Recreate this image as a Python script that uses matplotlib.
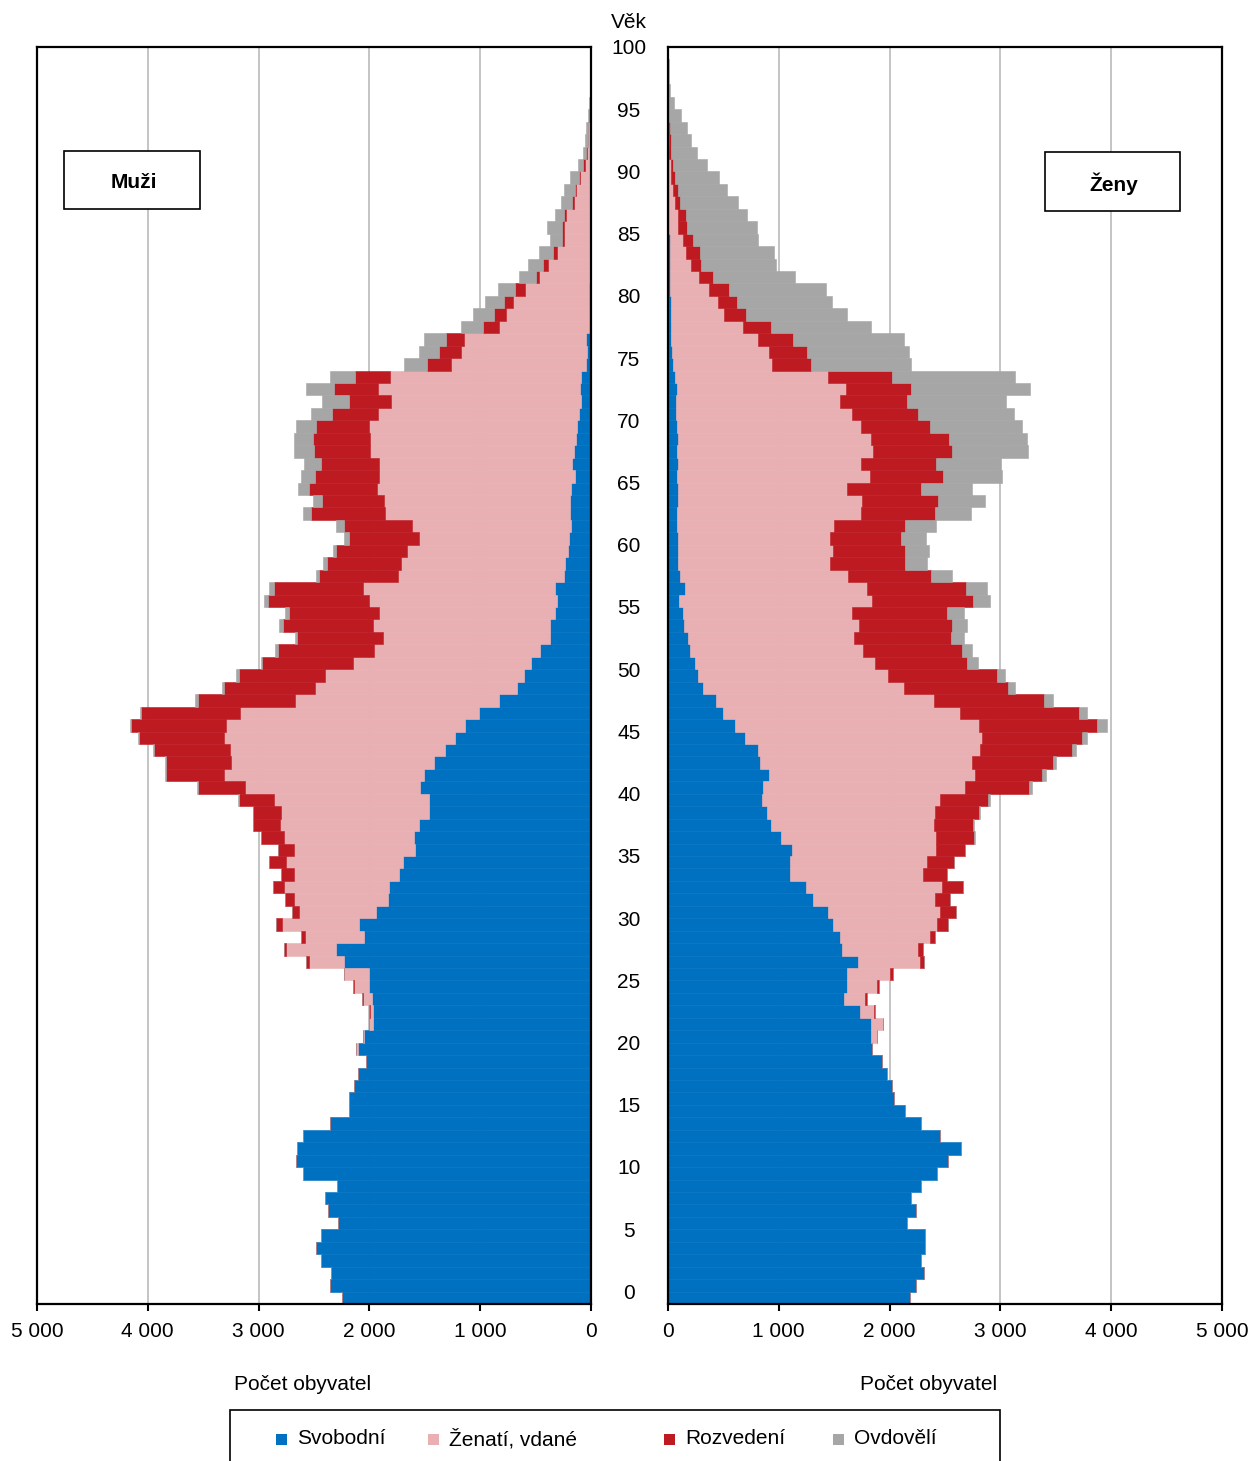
import numpy as np
import matplotlib
matplotlib.use("Agg")
import matplotlib.pyplot as plt
from matplotlib.patches import Rectangle
from matplotlib.transforms import blended_transform_factory

plt.rcParams['font.family'] = ['Liberation Sans', 'DejaVu Sans']

ages = np.arange(101)

# ---- Men (Muži) ----
men_single = [2250, 2355, 2350, 2440, 2485, 2440, 2280, 2375, 2405, 2295,
              2595, 2665, 2655, 2595, 2360, 2185, 2180, 2140, 2105, 2030,
              2107, 2045, 1968, 1968, 1981, 2006, 2006, 2226, 2303, 2052,
              2097, 1936, 1832, 1819, 1732, 1697, 1587, 1594, 1552, 1458,
              1458, 1542, 1510, 1419, 1319, 1226, 1136, 1013, 826, 668,
              603, 539, 458, 371, 371, 329, 303, 326, 242, 232,
              210, 200, 181, 194, 194, 184, 148, 168, 155, 135,
              123, 106, 90, 100, 90, 48, 39, 45, 20, 18,
              16, 15, 13, 12, 10, 10, 8, 7, 6, 5,
              4, 3, 3, 2, 2, 1, 1, 1, 0, 0, 0]
men_married = [0] * 20 + [
              13, 10, 38, 30, 77, 135, 219, 323, 446, 526,
              690, 696, 846, 952, 952, 1052, 1091, 1174, 1255, 1339,
              1407, 1581, 1806, 1826, 1939, 2090, 2154, 2155, 1845, 1826,
              1800, 1613, 1503, 1507, 1597, 1587, 1697, 1729, 1500, 1484,
              1448, 1355, 1435, 1664, 1674, 1748, 1768, 1748, 1839, 1862,
              1880, 1817, 1717, 1819, 1720, 1220, 1135, 1100, 809, 747,
              690, 585, 452, 375, 300, 235, 234, 216, 149, 127,
              96, 52, 36, 27, 21, 12, 9, 6, 4, 2, 1]
men_divorced = [0] * 20 + [
              0, 0, 0, 6, 10, 10, 6, 19, 25, 42,
              58, 68, 83, 103, 113, 161, 151, 206, 248, 258,
              316, 422, 523, 588, 684, 765, 859, 890, 878, 822,
              778, 813, 865, 774, 816, 813, 916, 803, 716, 671,
              645, 626, 616, 671, 558, 610, 578, 520, 509, 513,
              481, 413, 380, 404, 316, 213, 194, 168, 145, 112,
              81, 84, 35, 45, 32, 20, 23, 22, 13, 10,
              10, 13, 3, 2, 2, 1, 1, 1, 0, 0, 0]
men_widowed = [0] * 40 + [
              9, 10, 10, 12, 12, 10, 13, 16, 25, 10,
              19, 16, 26, 19, 29, 36, 33, 45, 26, 33,
              26, 51, 65, 74, 87, 100, 122, 151, 175, 171,
              181, 187, 245, 248, 229, 209, 187, 194, 200, 188,
              171, 158, 148, 133, 129, 109, 135, 84, 103, 100,
              80, 51, 29, 24, 23, 9, 8, 5, 4, 3, 2]

# ---- Women (Ženy) ----
women_single = [2184, 2239, 2307, 2284, 2320, 2320, 2158, 2236, 2197, 2281,
                2432, 2526, 2642, 2455, 2281, 2139, 2036, 2019, 1981, 1932,
                1839, 1829, 1836, 1732, 1590, 1613, 1613, 1716, 1568, 1548,
                1490, 1448, 1310, 1248, 1100, 1100, 1123, 1023, 929, 894,
                845, 858, 916, 832, 810, 694, 606, 500, 432, 316,
                274, 248, 200, 181, 145, 139, 100, 152, 110, 87,
                87, 87, 81, 81, 94, 94, 81, 87, 77, 87,
                81, 74, 71, 77, 61, 42, 36, 30, 28, 26,
                24, 22, 20, 18, 16, 14, 12, 10, 9, 8,
                7, 6, 5, 4, 3, 2, 2, 1, 1, 0, 0]
women_married = [0] * 20 + [
                6, 55, 103, 123, 191, 277, 390, 555, 684, 820,
                939, 1004, 1097, 1223, 1203, 1242, 1300, 1400, 1474, 1516,
                1610, 1820, 1852, 1913, 2010, 2142, 2197, 2139, 1965, 1816,
                1716, 1617, 1561, 1500, 1578, 1526, 1742, 1645, 1513, 1371,
                1400, 1378, 1413, 1664, 1658, 1522, 1745, 1658, 1775, 1742,
                1664, 1587, 1481, 1533, 1384, 900, 874, 780, 653, 480,
                424, 346, 257, 188, 149, 118, 82, 77, 52, 37,
                22, 17, 8, 6, 5, 4, 3, 2, 1, 1, 0]
women_divorced = [0] * 20 + [
                0, 0, 0, 13, 13, 17, 26, 39, 48, 45,
                100, 148, 135, 190, 217, 236, 261, 335, 349, 393,
                429, 583, 610, 733, 822, 903, 1071, 1071, 997, 936,
                978, 838, 894, 877, 838, 855, 913, 897, 755, 684,
                655, 642, 645, 665, 687, 671, 655, 671, 713, 710,
                616, 594, 603, 580, 574, 352, 345, 322, 251, 200,
                178, 184, 129, 91, 122, 91, 80, 78, 49, 42,
                32, 22, 16, 13, 8, 6, 4, 2, 1, 1, 0]
women_widowed = [0] * 37 + [
                13, 6, 13,
                23, 26, 38, 22, 36, 45, 84, 68, 77, 68,
                74, 91, 90, 110, 142, 148, 152, 187, 187, 197,
                213, 226, 278, 329, 426, 458, 529, 588, 684, 700,
                833, 868, 900, 1078, 1113, 896, 919, 994, 897, 910,
                855, 871, 736, 681, 671, 593, 629, 548, 526, 442,
                400, 303, 232, 187, 152, 101, 46, 14, 7, 4, 3]

categories = ['Svobodní', 'Ženatí, vdané', 'Rozvedení', 'Ovdovělí']
colors = ['#0070C0', '#E8B0B3', '#BE1A22', '#A6A6A6']
x_ticks = [0, 1000, 2000, 3000, 4000, 5000]
x_tick_labels = ['0', '1 000', '2 000', '3 000', '4 000', '5 000']
age_labels = list(range(0, 101, 5))

W, H = 1251, 1461
fig = plt.figure(figsize=(W / 100, H / 100), dpi=100)


def fx(px):
    return px / W


def fy(py):
    return 1 - py / H


ax_l = fig.add_axes([fx(37), fy(1304), fx(591) - fx(37), fy(47) - fy(1304)])
ax_r = fig.add_axes([fx(668), fy(1304), fx(1222) - fx(668), fy(47) - fy(1304)])

FS = 15

for ax, series in ((ax_l, [men_single, men_married, men_divorced, men_widowed]),
                   (ax_r, [women_single, women_married, women_divorced, women_widowed])):
    left = np.zeros(len(ages))
    for vals, col in zip(series, colors):
        v = np.array(vals, dtype=float)
        ax.barh(ages, v, left=left, height=1.0, align='edge', color=col,
                edgecolor=col, linewidth=0.4, zorder=2)
        left += v
    ax.set_ylim(0, 101)
    ax.set_xticks(x_ticks)
    ax.set_xticklabels(x_tick_labels, fontsize=FS)
    ax.set_yticks([])
    ax.grid(axis='x', color='#BFBFBF', linewidth=1.3, zorder=0)
    ax.set_axisbelow(True)
    for s in ax.spines.values():
        s.set_linewidth(1.6)
        s.set_color('black')
    ax.tick_params(axis='x', direction='out', length=5, width=1.5, pad=8)

ax_l.set_xlim(5000, 0)
ax_r.set_xlim(0, 5000)

# age labels in the middle
trans = blended_transform_factory(fig.transFigure, ax_l.transData)
for a in age_labels:
    fig.text(fx(629), a + 0.85, str(a), transform=trans, ha='center', va='center',
             fontsize=FS)
fig.text(fx(629), fy(22), 'Věk', ha='center', va='center', fontsize=FS)

# sex boxes
fig.patches.append(Rectangle((fx(64), fy(209)), fx(200) - fx(64), fy(151) - fy(209),
                             transform=fig.transFigure, fill=True, facecolor='white',
                             edgecolor='black', linewidth=1.2, zorder=5))
fig.text(fx(134), fy(182), 'Muži', ha='center', va='center', fontsize=FS,
         fontweight='bold', zorder=6)
fig.patches.append(Rectangle((fx(1045), fy(211)), fx(1180) - fx(1045), fy(152) - fy(211),
                             transform=fig.transFigure, fill=True, facecolor='white',
                             edgecolor='black', linewidth=1.2, zorder=5))
fig.text(fx(1114), fy(184), 'Ženy', ha='center', va='center', fontsize=FS,
         fontweight='bold', zorder=6)

# axis titles
fig.text(fx(303), fy(1385), 'Počet obyvatel', ha='center', va='center', fontsize=FS)
fig.text(fx(929), fy(1385), 'Počet obyvatel', ha='center', va='center', fontsize=FS)

# legend box
fig.patches.append(Rectangle((fx(230), fy(1475)), fx(1000) - fx(230), fy(1410) - fy(1475),
                             transform=fig.transFigure, fill=False,
                             edgecolor='black', linewidth=1.2))
leg_x = [281, 433, 669, 838]
for x0, lab, col in zip(leg_x, categories, colors):
    fig.patches.append(Rectangle((fx(x0 - 5.5), fy(1445)), fx(11), 11 / H,
                                 transform=fig.transFigure, facecolor=col,
                                 edgecolor='none'))
    fig.text(fx(x0 + 16), fy(1439), lab, ha='left', va='center', fontsize=FS)

fig.savefig('out.png', dpi=100)
